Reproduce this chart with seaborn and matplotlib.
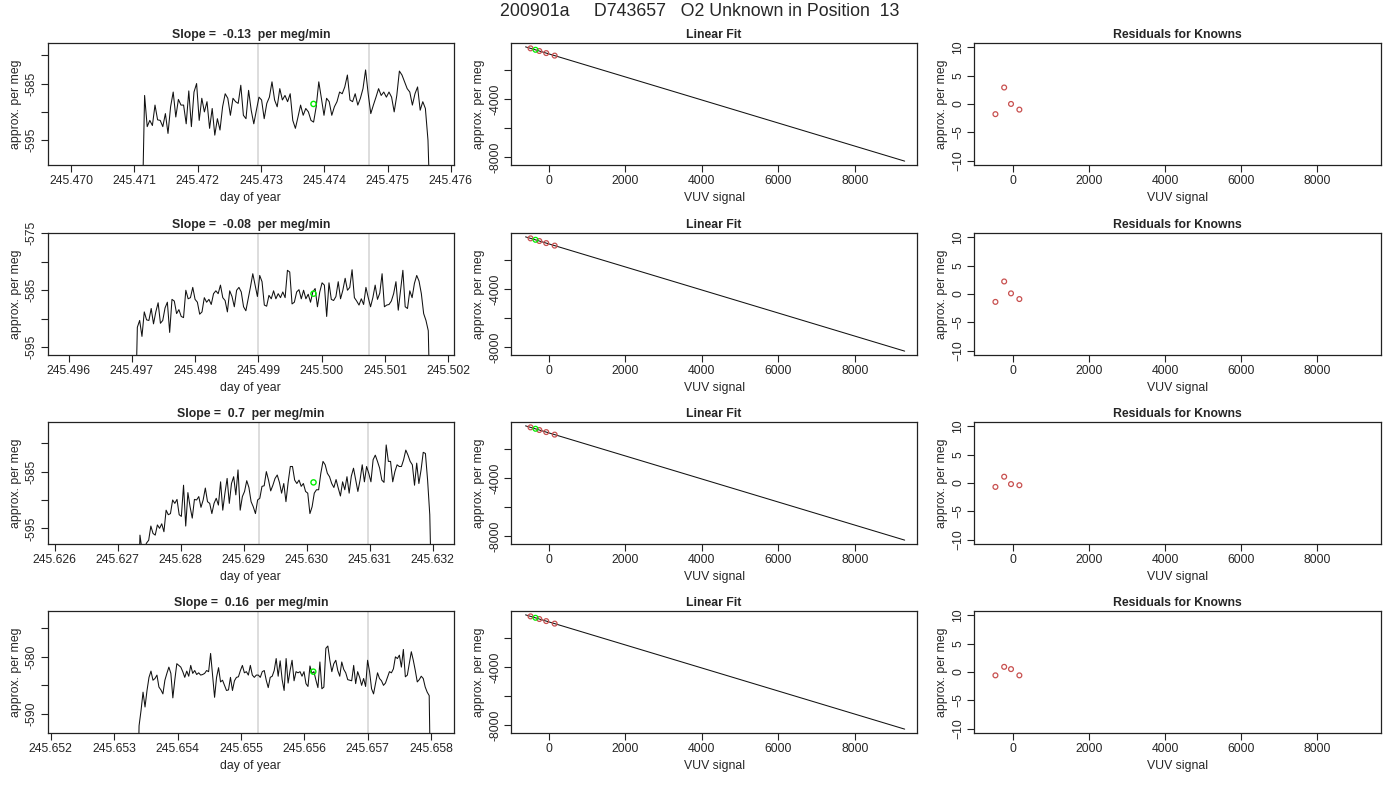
import matplotlib
matplotlib.use("Agg")
import matplotlib.pyplot as plt
import numpy as np
import pandas as pd
import seaborn as sns

# ---- data ------------------------------------------------------------------
main_title = "200901a     D743657   O2 Unknown in Position  13"
slope_titles = [
    "Slope =  -0.13  per meg/min",
    "Slope =  -0.08  per meg/min",
    "Slope =  0.7  per meg/min",
    "Slope =  0.16  per meg/min",
]

# start / end day of each trace (samples evenly spaced in between)
trace_start = [245.47112, 245.49705, 245.62732, 245.65336]
trace_end = [245.47568, 245.50172, 245.63199, 245.65800]

trace1 = [
    -610, -587.1, -592.6, -591.5, -592.4, -588.8, -591.4, -591.5, -592.6, -590.3,
    -593.8, -589.1, -586.5, -590.9, -587.8, -588.8, -588.8, -592.1, -586.3, -592.6,
    -586.5, -585.0, -591.5, -587.6, -590.0, -588.2, -592.9, -589.4, -594.1, -591.2,
    -593.2, -589.1, -586.8, -587.6, -590.6, -587.6, -588.2, -588.5, -585.3, -590.6,
    -591.2, -586.2, -589.7, -592.1, -589.7, -587.4, -587.9, -591.2, -588.5, -587.4,
    -584.7, -587.9, -589.1, -585.9, -587.9, -587.1, -588.2, -586.8, -591.5, -592.9,
    -590.9, -588.8, -590.6, -589.4, -590.0, -591.5, -591.8, -589.1, -584.7, -587.6,
    -590.6, -587.6, -588.2, -590.6, -589.1, -588.2, -586.5, -586.8, -585.6, -583.5,
    -587.9, -588.2, -586.8, -588.8, -587.6, -585.9, -582.6, -586.8, -590.3, -588.8,
    -587.4, -585.9, -587.1, -586.5, -587.4, -586.5, -587.4, -590.0, -587.1, -582.8,
    -583.5, -584.7, -585.9, -586.5, -588.8, -586.8, -585.6, -589.7, -588.2, -589.4,
    -595.0, -610,
]
trace2 = [
    -610, -591.5, -590.3, -593.1, -588.8, -590.2, -590.3, -588.2, -590.9, -588.8,
    -587.2, -590.8, -590.3, -588.1, -587.1, -592.4, -586.6, -586.9, -589.1, -588.4,
    -589.6, -589.8, -585.0, -586.5, -586.3, -584.5, -586.6, -587.1, -589.2, -588.8,
    -586.3, -587.1, -586.6, -587.5, -585.6, -585.1, -585.6, -584.1, -586.3, -586.8,
    -588.8, -585.1, -586.1, -587.9, -585.0, -584.5, -585.3, -587.9, -588.6, -586.5,
    -584.4, -582.1, -584.1, -586.1, -582.4, -583.5, -587.6, -587.8, -585.9, -586.5,
    -585.1, -586.5, -585.6, -586.3, -585.3, -586.3, -581.5, -581.8, -587.4, -587.1,
    -585.3, -584.9, -586.5, -585.0, -586.5, -585.7, -587.1, -585.3, -584.7, -587.9,
    -585.3, -583.7, -584.1, -589.6, -583.7, -586.6, -586.8, -586.1, -583.5, -586.5,
    -585.0, -582.9, -585.0, -584.5, -581.4, -586.3, -586.9, -587.6, -586.5, -587.5,
    -584.5, -586.3, -587.9, -586.3, -584.1, -586.6, -585.5, -582.1, -587.9, -587.6,
    -587.5, -586.9, -585.6, -583.5, -588.5, -585.0, -581.5, -587.9, -588.2, -585.1,
    -586.3, -583.8, -582.4, -583.4, -585.6, -589.1, -590.3, -592.1, -610,
]
trace3 = [
    -610, -596.2, -599.0, -598.5, -597.6, -597.1, -594.6, -595.9, -596.2, -594.4,
    -595.0, -594.2, -595.6, -591.8, -592.6, -592.4, -590.0, -590.6, -589.9, -592.6,
    -592.9, -587.4, -594.6, -588.7, -591.2, -593.2, -589.9, -590.0, -589.4, -591.3,
    -590.0, -587.9, -590.3, -590.6, -592.4, -590.6, -589.7, -590.9, -586.8, -591.8,
    -588.8, -586.2, -590.6, -587.1, -585.9, -589.1, -584.7, -591.8, -589.4, -588.5,
    -586.6, -587.8, -590.3, -591.2, -592.4, -590.0, -589.7, -587.6, -587.5, -585.0,
    -586.5, -588.4, -587.4, -586.2, -585.6, -586.9, -588.8, -587.1, -590.3, -586.9,
    -584.1, -584.1, -586.5, -587.1, -586.5, -587.6, -587.1, -588.5, -588.8, -592.4,
    -591.2, -588.8, -588.2, -588.2, -585.3, -583.2, -583.8, -585.3, -585.9, -587.1,
    -587.8, -586.4, -587.9, -589.3, -586.8, -588.2, -585.9, -588.8, -585.8, -584.4,
    -586.5, -588.5, -586.5, -583.8, -586.8, -584.1, -585.3, -586.8, -582.9, -582.1,
    -583.2, -584.4, -586.5, -586.9, -580.3, -583.2, -583.2, -586.8, -585.0, -583.8,
    -584.1, -584.1, -582.9, -581.2, -582.1, -583.2, -583.8, -587.4, -583.5, -587.1,
    -584.7, -581.6, -581.8, -586.5, -592.6, -610,
]
trace4 = [
    -610, -592.1, -589.4, -586.2, -588.8, -585.9, -583.6, -582.5, -584.1, -583.8,
    -583.2, -585.3, -585.8, -586.5, -584.1, -582.9, -581.8, -582.9, -587.2, -584.0,
    -581.2, -581.5, -581.8, -582.6, -583.6, -582.5, -583.4, -581.5, -582.9, -582.4,
    -583.1, -582.8, -583.2, -583.1, -582.9, -582.4, -582.6, -579.4, -583.2, -587.1,
    -583.6, -581.9, -584.4, -584.1, -585.0, -585.9, -585.8, -583.6, -585.9, -584.2,
    -583.6, -583.5, -582.4, -581.5, -582.8, -582.6, -583.2, -581.5, -583.2, -583.6,
    -583.2, -583.2, -583.6, -582.6, -582.4, -584.1, -585.4, -583.6, -583.4, -582.4,
    -580.3, -583.4, -580.7, -584.0, -585.9, -580.3, -584.6, -582.4, -580.6, -584.2,
    -582.6, -582.8, -582.6, -583.4, -582.6, -584.7, -585.2, -581.6, -582.9, -582.6,
    -584.1, -585.4, -580.9, -585.6, -585.3, -578.5, -578.1, -580.6, -582.6, -581.2,
    -580.6, -582.4, -583.4, -580.9, -582.2, -582.8, -584.0, -584.1, -584.2, -581.5,
    -584.7, -582.6, -583.6, -585.0, -583.8, -585.2, -580.6, -582.6, -585.6, -586.5,
    -584.7, -582.8, -583.8, -584.2, -585.0, -584.6, -583.6, -582.6, -582.8, -582.1,
    -580.0, -580.3, -579.7, -581.8, -578.7, -583.5, -583.2, -581.2, -579.1, -580.6,
    -582.4, -584.4, -584.0, -583.4, -583.8, -585.3, -586.2, -586.8, -610,
]
traces = [trace1, trace2, trace3, trace4]

# two grey marker lines per trace
marks = [
    [245.47296, 245.47470],
    [245.49900, 245.50074],
    [245.62924, 245.63098],
    [245.65527, 245.65701],
]
# unknown (green) point on each trace
unk_day = [245.47383, 245.49987, 245.63011, 245.65614]
unk_val = [-588.6, -585.6, -586.9, -582.6]

day_xlim = [
    (245.46963, 245.47605),
    (245.49567, 245.50209),
    (245.62589, 245.63234),
    (245.65195, 245.65836),
]
day_ylim = [(-599.4, -577.8), (-596.4, -574.9), (-597.8, -576.2), (-593.4, -571.9)]
day_tick0 = [245.470, 245.496, 245.626, 245.652]
val_ticks = [
    [-580, -585, -590, -595],
    [-575, -580, -585, -590, -595],
    [-580, -585, -590, -595],
    [-575, -580, -585, -590],
]
val_labels = [
    ["", "-585", "", "-595"],
    ["-575", "", "-585", "", "-595"],
    ["", "-585", "", "-595"],
    ["", "-580", "", "-590"],
]

# linear fit of knowns (VUV signal vs per meg)
fit_vuv = [-600, 9300]
fit_val = [-385, -8290]
known_vuv = [-470, -240, -60, 160]
known_val = [-489, -672, -816, -991]
unk_vuv = -340
unk_fit_val = -586

residuals = [
    [-1.8, 2.9, 0.0, -1.0],
    [-1.4, 2.2, 0.1, -0.9],
    [-0.7, 1.1, -0.2, -0.4],
    [-0.6, 0.9, 0.5, -0.6],
]

RED = "#c8504f"
GREEN = "#00ee00"

sns.set_style("ticks")
plt.rcParams["font.family"] = ["Liberation Sans", "DejaVu Sans"]
plt.rcParams["font.size"] = 8.8

fig = plt.figure(figsize=(14, 8), dpi=100)
fig.text(0.5, 1 - 11.5 / 800, main_title, ha="center", va="center", fontsize=12.8)

col_left = [47.7, 511.0, 974.3]
col_right = [454.0, 917.3, 1381.0]
row_top = [42.7, 232.7, 421.7, 610.7]
row_h = 122.5


def r_style(ax):
    for s in ax.spines.values():
        s.set_visible(True)
        s.set_color("#222222")
        s.set_linewidth(0.9)
    ax.tick_params(direction="out", length=5, width=0.8, color="#222222",
                   labelsize=8.8, pad=2)
    ax.tick_params(axis="y", labelrotation=90)
    for lbl in ax.get_yticklabels():
        lbl.set_va("center")
    ax.set_title(ax.get_title(), fontsize=8.8, fontweight="bold", pad=3.5)


for i in range(4):
    axes = []
    for j in range(3):
        l = col_left[j] / 1400
        w = (col_right[j] - col_left[j]) / 1400
        b = 1 - (row_top[i] + row_h) / 800
        axes.append(fig.add_axes([l, b, w, row_h / 800]))
    ax1, ax2, ax3 = axes

    # --- time trace
    df = pd.DataFrame({
        "day": np.linspace(trace_start[i], trace_end[i], len(traces[i])),
        "val": traces[i],
    })
    for m in marks[i]:
        ax1.axvline(m, color="#d3d3d3", lw=1.1, zorder=1)
    sns.lineplot(data=df, x="day", y="val", ax=ax1, color="#111111", lw=0.75,
                 estimator=None, sort=False, zorder=2)
    sns.scatterplot(x=[unk_day[i]], y=[unk_val[i]], ax=ax1, s=14,
                    facecolor="none", edgecolor=GREEN, linewidth=1.0, zorder=3)
    ax1.set_xlim(*day_xlim[i])
    ax1.set_ylim(*day_ylim[i])
    dticks = [day_tick0[i] + 0.001 * k for k in range(7)]
    ax1.set_xticks(dticks)
    ax1.set_xticklabels([f"{t:.3f}" for t in dticks])
    ax1.set_yticks(val_ticks[i])
    ax1.set_yticklabels(val_labels[i])
    ax1.set_xlabel("day of year", fontsize=8.8, labelpad=4)
    ax1.set_ylabel("approx. per meg", fontsize=8.8, labelpad=3)
    ax1.set_title(slope_titles[i])

    # --- linear fit
    sns.lineplot(x=fit_vuv, y=fit_val, ax=ax2, color="#111111", lw=0.75)
    sns.scatterplot(x=known_vuv, y=known_val, ax=ax2, s=12, facecolor="none",
                    edgecolor=RED, linewidth=0.9, zorder=3)
    sns.scatterplot(x=[unk_vuv], y=[unk_fit_val], ax=ax2, s=12, facecolor="none",
                    edgecolor=GREEN, linewidth=0.9, zorder=4)
    ax2.set_xlim(-980, 9630)
    ax2.set_ylim(-8572, -97)
    ax2.set_xticks([0, 2000, 4000, 6000, 8000])
    ax2.set_yticks([-2000, -4000, -6000, -8000])
    ax2.set_yticklabels(["", "-4000", "", "-8000"])
    ax2.set_xlabel("VUV signal", fontsize=8.8, labelpad=4)
    ax2.set_ylabel("approx. per meg", fontsize=8.8, labelpad=3)
    ax2.set_title("Linear Fit")

    # --- residuals
    sns.scatterplot(x=known_vuv, y=residuals[i], ax=ax3, s=12, facecolor="none",
                    edgecolor=RED, linewidth=0.9)
    ax3.set_xlim(-1026, 9676)
    ax3.set_ylim(-10.8, 10.8)
    ax3.set_xticks([0, 2000, 4000, 6000, 8000])
    ax3.set_yticks([-10, -5, 0, 5, 10])
    ax3.set_xlabel("VUV signal", fontsize=8.8, labelpad=4)
    ax3.set_ylabel("approx. per meg", fontsize=8.8, labelpad=3)
    ax3.set_title("Residuals for Knowns")

    for ax in axes:
        r_style(ax)

fig.savefig("out.png", dpi=100)
